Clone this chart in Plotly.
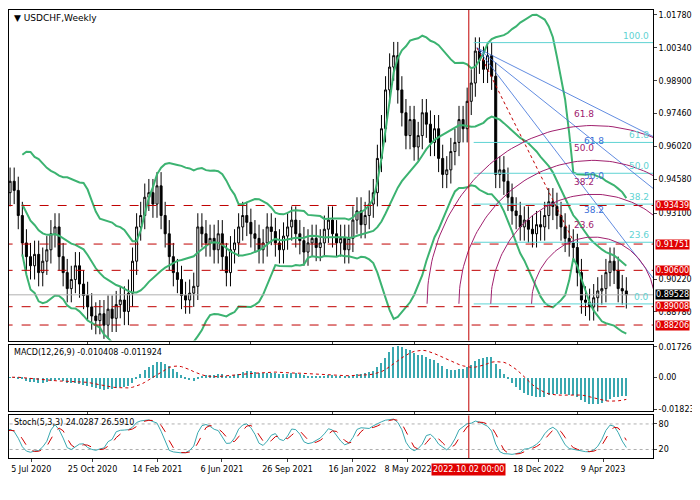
import numpy as np
import pandas as pd
import plotly.graph_objects as go
from plotly.subplots import make_subplots

# weekly closes (from 5 Jul 2020)
closes = [
    0.940, 0.945, 0.941, 0.930, 0.918, 0.912, 0.908, 0.913, 0.905, 0.910,
    0.915, 0.922, 0.925, 0.912, 0.905, 0.898, 0.902, 0.908, 0.900, 0.895,
    0.890, 0.886, 0.884, 0.887, 0.882, 0.889, 0.885, 0.891, 0.893, 0.888,
    0.896, 0.910, 0.925, 0.930, 0.938, 0.940, 0.935, 0.943, 0.930, 0.922,
    0.912, 0.905, 0.902, 0.895, 0.893, 0.896, 0.899, 0.925, 0.922, 0.918,
    0.920, 0.915, 0.922, 0.912, 0.905, 0.915, 0.918, 0.925, 0.930, 0.927,
    0.922, 0.920, 0.915, 0.918, 0.925, 0.923, 0.918, 0.915, 0.921, 0.925,
    0.928, 0.922, 0.919, 0.914, 0.918, 0.920, 0.916, 0.918, 0.924, 0.928,
    0.922, 0.918, 0.920, 0.915, 0.920, 0.928, 0.932, 0.926, 0.930, 0.935,
    0.940, 0.955, 0.968, 0.985, 0.995, 1.000, 0.985, 0.975, 0.965, 0.972,
    0.960, 0.965, 0.975, 0.970, 0.962, 0.968, 0.955, 0.948, 0.950, 0.958,
    0.962, 0.972, 0.968, 0.980, 0.988, 1.002, 0.998, 0.994, 1.000, 0.991,
    0.948, 0.950, 0.945, 0.938, 0.932, 0.930, 0.925, 0.928, 0.924, 0.922,
    0.926, 0.925, 0.930, 0.936, 0.934, 0.930, 0.925, 0.920, 0.918, 0.916,
    0.905, 0.893, 0.892, 0.890, 0.894, 0.897, 0.898, 0.905, 0.910, 0.906,
    0.898, 0.897, 0.89528,
]
first_open = 0.936
wick = 0.006

tick_bars = [6.2, 21.2, 37.1, 52.9, 69, 84.9, 98.5, 130.5, 146.3]
tick_text = ["5 Jul 2020", "25 Oct 2020", "14 Feb 2021", "6 Jun 2021", "26 Sep 2021",
             "16 Jan 2022", "8 May 2022", "18 Dec 2022", "9 Apr 2023"]
cursor_bar = 113.4

levels = [0.93439, 0.91751, 0.90600, 0.89008, 0.88206]
last_price = 0.89528
price_ticks = [1.01780, 1.00340, 0.98900, 0.97460, 0.96020, 0.94580, 0.93100, 0.90220, 0.88780, 0.87340]

fib_low, fib_high = 0.8913, 1.0057
fib_ratios = [0.0, 0.236, 0.382, 0.5, 0.618, 1.0]
fib_names = ["0.0", "23.6", "38.2", "50.0", "61.8", "100.0"]
fan_origin = (115.4, 1.0034)
fan_ends = [0.9646, 0.9419, 0.9027]
arc_names = ["23.6", "38.2", "50.0", "61.8"]
arc_rx = [62, 103, 135, 167]   # pixel radii
arc_ry = [67, 110, 144, 179]

# pixel -> data helpers (chart scale)
def px_bar(px):
    return (px - 5) / 4.1

def px_price(py):
    return 1.0178 - (py - 13) * 0.000436

c = pd.Series(closes)
o = c.shift(1).fillna(first_open)
h = np.maximum(o, c) + wick
l = np.minimum(o, c) - wick
x = np.arange(len(c))

mid = c.rolling(20, min_periods=5).mean()
sd = c.rolling(20, min_periods=5).std()
upper, lower = mid + 2 * sd, mid - 2 * sd

macd = c.ewm(span=12).mean() - c.ewm(span=26).mean()
signal = macd.rolling(9, min_periods=1).mean()

ll = l.rolling(5, min_periods=1).min()
hh = h.rolling(5, min_periods=1).max()
k = ((c - ll).rolling(3, min_periods=1).sum() / (hh - ll).rolling(3, min_periods=1).sum()) * 100
d = k.rolling(3, min_periods=1).mean()

fig = make_subplots(rows=3, cols=1, shared_xaxes=True)
green = "#3CB371"
for band in [upper, mid, lower]:
    fig.add_trace(go.Scatter(x=x, y=band, mode="lines", line=dict(color=green, width=2)), 1, 1)

for lv in levels:
    fig.add_trace(go.Scatter(x=[-5, 170], y=[lv, lv], mode="lines",
                             line=dict(color="#c00000", width=1, dash="dash")), 1, 1)
fig.add_trace(go.Scatter(x=[-5, 170], y=[last_price] * 2, mode="lines",
                         line=dict(color="#b0b0b0", width=1)), 1, 1)

# fib retracement
for r, nm in zip(fib_ratios, fib_names):
    p = fib_low + r * (fib_high - fib_low)
    fig.add_trace(go.Scatter(x=[114.6, 170], y=[p, p], mode="lines",
                             line=dict(color="#5fd3d3", width=1)), 1, 1)
    fig.add_annotation(x=158, y=p, text=nm, showarrow=False, xanchor="right", yanchor="bottom",
                       font=dict(size=9, color="#5fd3d3"), xref="x", yref="y")

# fib fan
for pe in fan_ends:
    fig.add_trace(go.Scatter(x=[fan_origin[0], px_bar(655)], y=[fan_origin[1], pe], mode="lines",
                             line=dict(color="#3a6fd8", width=0.8)), 1, 1)
fig.add_trace(go.Scatter(x=[fan_origin[0], px_bar(575)], y=[fan_origin[1], px_price(240)], mode="lines",
                         line=dict(color="#c00000", width=1, dash="dot")), 1, 1)

# fib arcs
t = np.linspace(0, np.pi, 120)
for rx, ry, nm in zip(arc_rx, arc_ry, arc_names):
    fig.add_trace(go.Scatter(x=px_bar(595 - rx * np.cos(t)), y=px_price(303 - ry * np.sin(t)),
                             mode="lines", line=dict(color="#a0206e", width=1)), 1, 1)
    fig.add_annotation(x=px_bar(586), y=px_price(303 - ry - 12), text=nm, showarrow=False,
                       font=dict(size=9, color="#a0206e"), xref="x", yref="y")
for ry, nm in zip([110, 144, 179], ["38.2", "50.0", "61.8"]):
    fig.add_annotation(x=px_bar(596), y=px_price(303 - ry + 16), text=nm, showarrow=False,
                       font=dict(size=9, color="#3a6fd8"), xref="x", yref="y")

fig.add_trace(go.Candlestick(x=x, open=o, high=h, low=l, close=c,
                             increasing=dict(line=dict(color="black", width=1), fillcolor="white"),
                             decreasing=dict(line=dict(color="black", width=1), fillcolor="black"),
                             whiskerwidth=0), 1, 1)

# MACD
fig.add_trace(go.Bar(x=x, y=macd, marker_color="#3aa8b0", marker_line_width=0, width=0.35), 2, 1)
fig.add_trace(go.Scatter(x=x, y=signal, mode="lines", line=dict(color="#d00000", width=1, dash="dot")), 2, 1)

# Stochastic
for lv in [80, 20]:
    fig.add_trace(go.Scatter(x=[-5, 170], y=[lv, lv], mode="lines",
                             line=dict(color="#b0b0b0", width=1, dash="dot")), 3, 1)
fig.add_trace(go.Scatter(x=x, y=k, mode="lines", line=dict(color="#3aa8b0", width=1)), 3, 1)
fig.add_trace(go.Scatter(x=x, y=d, mode="lines", line=dict(color="#d00000", width=1, dash="dash")), 3, 1)

for r in [1, 2, 3]:
    fig.add_vline(x=cursor_bar, line=dict(color="#c00000", width=1), row=r, col=1)

xr = [px_bar(8), px_bar(655)]
axis_style = dict(showgrid=False, zeroline=False, showline=True, linecolor="black", mirror=True,
                  ticks="outside", ticklen=3, tickfont=dict(size=8, family="DejaVu Sans"))
fig.update_xaxes(range=xr, tickangle=0, **axis_style)
fig.update_xaxes(showticklabels=False)
fig.update_xaxes(showticklabels=True, tickvals=tick_bars, ticktext=tick_text, row=3, col=1)
fig.update_yaxes(side="right", **axis_style)

# page adds 8px body margin, so the figure is slightly smaller than the window
fig.update_layout(
    width=692, height=492, template="plotly_white", showlegend=False,
    margin=dict(l=0, r=45, t=0, b=42),
    plot_bgcolor="white", paper_bgcolor="white", bargap=0,
    xaxis=dict(domain=[0, 1], rangeslider=dict(visible=False)),
    xaxis2=dict(rangeslider=dict(visible=False)),
    xaxis3=dict(rangeslider=dict(visible=False)),
    yaxis=dict(domain=[0.262, 1], range=[px_price(340), px_price(8)], tickvals=price_ticks,
               ticktext=[f"{p:.5f}" for p in price_ticks]),
    yaxis2=dict(domain=[0.104, 0.253], range=[-0.0195, 0.0185], tickvals=[0.017262, 0.0, -0.018231],
                ticktext=["0.017262", "0.00", "-0.018231"]),
    yaxis3=dict(domain=[0, 0.095], range=[0, 100], tickvals=[80, 20], ticktext=["80", "20"]),
    font=dict(family="DejaVu Sans", size=8, color="black"),
)

fig.add_annotation(xref="paper", yref="paper", x=0.005, y=0.998, text="▼ USDCHF,Weekly",
                   showarrow=False, xanchor="left", yanchor="top", font=dict(size=9))
fig.add_annotation(xref="paper", yref="paper", x=0.005, y=0.251, text="MACD(12,26,9) -0.010408 -0.011924",
                   showarrow=False, xanchor="left", yanchor="top", font=dict(size=8))
fig.add_annotation(xref="paper", yref="paper", x=0.005, y=0.094, text="Stoch(5,3,3) 24.0287 26.5910",
                   showarrow=False, xanchor="left", yanchor="top", font=dict(size=8))

for lv in levels:
    fig.add_annotation(xref="paper", yref="y", x=1.003, y=lv, text=f"{lv:.5f}", showarrow=False,
                       xanchor="left", bgcolor="#e00000", borderpad=0, font=dict(size=8, color="white"))
fig.add_annotation(xref="paper", yref="y", x=1.003, y=last_price, text=f"{last_price:.5f}", showarrow=False,
                   xanchor="left", bgcolor="black", borderpad=0, font=dict(size=8, color="white"))
fig.add_annotation(xref="x3", yref="paper", x=cursor_bar, y=-0.012, text="2022.10.02 00:00", showarrow=False,
                   yanchor="top", bgcolor="#e00000", font=dict(size=8, color="white"))

fig.write_html("out.html")
